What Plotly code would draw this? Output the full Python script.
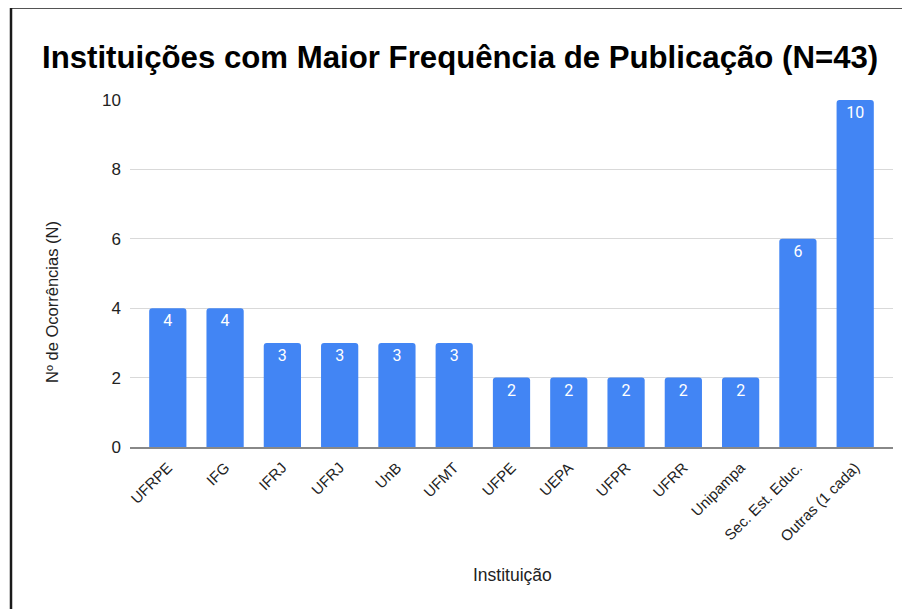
import plotly.graph_objects as go

categories = ["UFRPE", "IFG", "IFRJ", "UFRJ", "UnB", "UFMT", "UFPE", "UEPA",
              "UFPR", "UFRR", "Unipampa", "Sec. Est. Educ.", "Outras (1 cada)"]
values = [4, 4, 3, 3, 3, 3, 2, 2, 2, 2, 2, 6, 10]

# page body has an 8px margin: figure origin sits at (8, 8) in the window
OFF = 8
W, H = 902, 601
L, R, T, B = 130 - OFF, 17, 100 - OFF, 162
PW, PH = W - L - R, H - T - B

def px(x):
    return (x - OFF - L) / PW

def py(y):
    return (H - B - (y - OFF)) / PH

FONT = "Liberation Sans, Arial, sans-serif"

fig = go.Figure(go.Bar(
    x=categories, y=values,
    marker=dict(color="#4285F4", cornerradius=3, line=dict(width=0)),
    text=[str(v) for v in values],
    textposition="inside", insidetextanchor="end",
    textfont=dict(color="white", size=16, family="Roboto, " + FONT),
    textangle=0,
))

fig.update_layout(
    width=W, height=H,
    margin=dict(l=L, r=R, t=T, b=B),
    paper_bgcolor="white", plot_bgcolor="white",
    bargap=0.35,
    showlegend=False,
    font=dict(family=FONT, color="#222222"),
    xaxis=dict(
        range=[-0.66, 12.66], tickangle=-45, tickfont=dict(size=15, color="#222"),
        showgrid=False, showline=True, linecolor="#888888", linewidth=2,
        ticks="", fixedrange=True, ticklabelstandoff=4,
    ),
    yaxis=dict(
        range=[0, 10], tickvals=[0, 2, 4, 6, 8, 10], tickfont=dict(size=17, color="#222"),
        showgrid=True, gridcolor="#d9d9d9", gridwidth=1, zeroline=False,
        ticks="", ticklabelstandoff=8,
    ),
    annotations=[
        dict(text="<b>Instituições com Maior Frequência de Publicação (N=43)</b>",
             x=px(460), y=py(57), xref="paper", yref="paper", showarrow=False,
             font=dict(size=31.2, color="#000000", family=FONT), xanchor="center", yanchor="middle"),
        dict(text="Nº de Ocorrências (N)", x=px(52), y=py(302), xref="paper", yref="paper",
             showarrow=False, textangle=-90, font=dict(size=16.5, color="#222"),
             xanchor="center", yanchor="middle"),
        dict(text="Instituição", x=px(512), y=py(575), xref="paper", yref="paper",
             showarrow=False, font=dict(size=17.5, color="#222"),
             xanchor="center", yanchor="middle"),
    ],
    shapes=[
        dict(type="line", xref="paper", yref="paper", x0=px(11), x1=px(920), y0=py(7.5), y1=py(7.5),
             line=dict(color="#1a1a1a", width=2.5)),
        dict(type="line", xref="paper", yref="paper", x0=px(11), x1=px(11), y0=py(7.5), y1=py(620),
             line=dict(color="#1a1a1a", width=2.5)),
    ],
)

fig.write_html("out.html")
